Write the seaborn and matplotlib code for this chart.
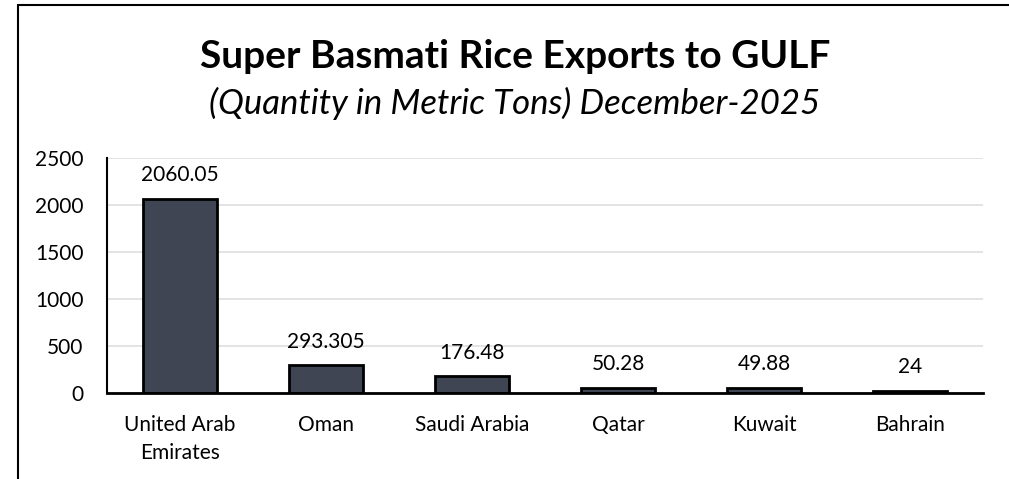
import numpy as np
import pandas as pd
import matplotlib
matplotlib.use("Agg")
import matplotlib.pyplot as plt
from matplotlib.patches import Rectangle
import seaborn as sns

countries = ["United Arab\nEmirates", "Oman", "Saudi Arabia", "Qatar", "Kuwait", "Bahrain"]
quantities = [2060.05, 293.305, 176.48, 50.28, 49.88, 24]
value_labels = ["2060.05", "293.305", "176.48", "50.28", "49.88", "24"]
y_ticks = [0, 500, 1000, 1500, 2000, 2500]

sns.set_theme(style="white")
plt.rcParams['font.family'] = ['Lato', 'DejaVu Sans']
plt.rcParams['text.color'] = 'black'

df = pd.DataFrame({'country': countries, 'qty': quantities})

fig = plt.figure(figsize=(10.09, 4.79), dpi=100)
ax = fig.add_axes([107 / 1009, 1 - 393 / 479, 876 / 1009, 235 / 479])

sns.barplot(data=df, x='country', y='qty', color='#404553', width=0.51,
            edgecolor='black', linewidth=2, saturation=1, ax=ax, zorder=3)

ax.set_ylim(0, 2500)
ax.set_yticks(y_ticks)
ax.set_xlim(-0.5, len(countries) - 0.5)
ax.yaxis.grid(True, color='#dedede', linewidth=1.2, zorder=0)
ax.set_axisbelow(True)
for s in ['top', 'right']:
    ax.spines[s].set_visible(False)
ax.spines['left'].set_color('black')
ax.spines['left'].set_linewidth(1.5)
ax.spines['bottom'].set_color('black')
ax.spines['bottom'].set_linewidth(2)
ax.spines['bottom'].set_zorder(4)
ax.set_xlabel('')
ax.set_ylabel('')
ax.tick_params(axis='both', labelsize=15, colors='black', length=0)
ax.tick_params(axis='y', pad=17)
ax.tick_params(axis='x', pad=16)
for lbl in ax.get_xticklabels():
    lbl.set_linespacing(1.5)

ax.bar_label(ax.containers[0], labels=value_labels, padding=10, fontsize=15)

fig.text(515 / 1009, 1 - 57 / 479, "Super Basmati Rice Exports to GULF", ha='center', va='center',
         fontsize=28, fontweight='bold')
fig.text(515 / 1009, 1 - 103 / 479, "(Quantity in Metric Tons) December-2025", ha='center', va='center',
         fontsize=25, style='italic')

# outer frame: right and bottom edges fall outside the canvas
top = 1 - 5 / 479
fig.add_artist(Rectangle((18 / 1009, -0.5), 2.0, top + 0.5, transform=fig.transFigure,
                         fill=False, edgecolor='black', linewidth=1.5))

fig.savefig('out.png', dpi=100)
